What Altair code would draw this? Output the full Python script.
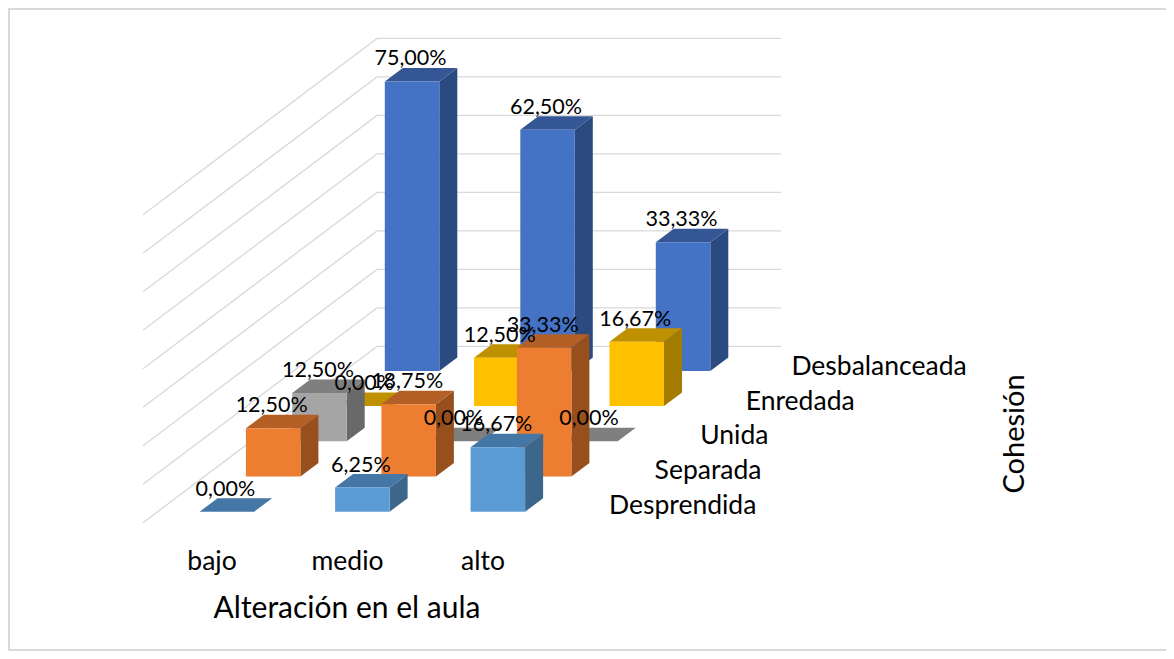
import altair as alt
import pandas as pd

categories = ["bajo", "medio", "alto"]
series = ["Desprendida", "Separada", "Unida", "Enredada", "Desbalanceada"]
desprendida = [0.00, 6.25, 16.67]
separada = [12.50, 18.75, 33.33]
unida = [12.50, 0.00, 0.00]
enredada = [0.00, 12.50, 16.67]
desbalanceada = [75.00, 62.50, 33.33]
ticks = [0, 10, 20, 30, 40, 50, 60, 70, 80]
x_title = "Alteración en el aula"
y_title = "Cohesión"

FRONT = ["#5B9BD5", "#ED7D31", "#A5A5A5", "#FFC000", "#4472C4"]
TOPF = ["#4477A6", "#B35F25", "#7F7F7F", "#BF9000", "#345694"]
SIDE = ["#3C668C", "#984F1E", "#696969", "#A37B00", "#2B4A80"]
GRID = "#D9D9D9"
FONT = "Lato"

W, H = 1158, 643
xs = alt.Scale(domain=[8, 8 + W], range=[0, W], nice=False, zero=False)
ys = alt.Scale(domain=[8 + H, 8], range=[H, 0], nice=False, zero=False)
X = lambda f: alt.X(f"{f}:Q", scale=xs, axis=None)
Y = lambda f: alt.Y(f"{f}:Q", scale=ys, axis=None)

# projection of the 3-D scene on the picture
PX = 3.86        # per percent point
X0, Y0 = 199.6, 511.7
CAT_STEP = 135.5
DEPTH_X, DEPTH_Y = 46.3, 35.2
BAR_W = 54.5
EDGE_X, EDGE_Y = 18.0, 13.5

rows = []
for d, vals in enumerate([desprendida, separada, unida, enredada, desbalanceada]):
    for i, v in enumerate(vals):
        for t in (0, 1):
            rows.append(dict(i=i, d=d, v=v, t=t, cat=categories[i], ser=series[d]))
df = pd.DataFrame(rows)

base = alt.Chart(df).transform_calculate(
    xl=f"{X0}+datum.i*{CAT_STEP}+datum.d*{DEPTH_X}",
    floor=f"{Y0}-datum.d*{DEPTH_Y}",
).transform_calculate(
    xr=f"datum.xl+{BAR_W}",
    top=f"datum.floor-datum.v*{PX}",
).transform_calculate(
    sx=f"datum.xr+datum.t*{EDGE_X}",
    sy=f"datum.top-datum.t*{EDGE_Y}",
    sy2=f"datum.floor-datum.t*{EDGE_Y}",
    tx=f"datum.xl+datum.t*{EDGE_X}",
    tx2=f"datum.xr+datum.t*{EDGE_X}",
    lx=f"(datum.xl+datum.xr)/2-1.5",
    ly=f"datum.top-16",
    label="replace(format(datum.v,'.2f'),'.',',')+'%'",
)

layers = []

# wall grid
grid_df = pd.DataFrame([dict(tick=k, c=c) for k in ticks for c in (0, 1, 2)])
grid = alt.Chart(grid_df).transform_calculate(
    gx="datum.c==0?143:(datum.c==1?377:781)",
    gy=f"(datum.c==0?522.7:346.4)-datum.tick*3.85",
).mark_line(color=GRID, strokeWidth=1.3, clip=False).encode(
    x=X("gx"), y=Y("gy"), detail="tick:O", order="c:Q"
)
layers.append(grid)

# bars, back to front
for d in range(len(series) - 1, -1, -1):
    b = base.transform_filter(f"datum.d=={d}")
    side = b.mark_area(color=SIDE[d], orient="vertical", interpolate="linear").encode(
        x=X("sx"), y=Y("sy"), y2=alt.Y2("sy2"), detail="cat:N"
    )
    top = b.mark_area(color=TOPF[d], orient="horizontal", interpolate="linear").encode(
        y=Y("sy"), x=X("tx"), x2=alt.X2("tx2"), detail="cat:N"
    )
    front = b.transform_filter("datum.t==0").mark_rect(color=FRONT[d]).encode(
        x=X("xl"), x2="xr:Q", y=Y("top"), y2="floor:Q"
    )
    layers += [side, top, front]

# value labels
layers.append(
    base.transform_filter("datum.t==0").mark_text(
        font=FONT, fontSize=21.5, color="#000000", align="center", baseline="alphabetic"
    ).encode(x=X("lx"), y=Y("ly"), text="label:N")
)

# category labels
cat_df = pd.DataFrame(dict(i=range(len(categories)), name=categories))
layers.append(
    alt.Chart(cat_df).transform_calculate(px=f"212+datum.i*{CAT_STEP}", py="570").mark_text(
        font=FONT, fontSize=26.5, color="#000000", align="center", baseline="alphabetic"
    ).encode(x=X("px"), y=Y("py"), text="name:N")
)

# series labels
ser_df = pd.DataFrame(dict(d=range(len(series)), name=series))
layers.append(
    alt.Chart(ser_df).transform_calculate(px="609+datum.d*45.6", py="514-datum.d*34.8").mark_text(
        font=FONT, fontSize=26.5, color="#000000", align="left", baseline="alphabetic"
    ).encode(x=X("px"), y=Y("py"), text="name:N")
)

# axis titles
t_df = pd.DataFrame(dict(name=[x_title]))
layers.append(
    alt.Chart(t_df).transform_calculate(px="347", py="618").mark_text(
        font=FONT, fontSize=30, color="#000000", align="center", baseline="alphabetic"
    ).encode(x=X("px"), y=Y("py"), text="name:N")
)
t2_df = pd.DataFrame(dict(name=[y_title]))
layers.append(
    alt.Chart(t2_df).transform_calculate(px="1024", py="434").mark_text(
        font=FONT, fontSize=29, color="#000000", align="center", baseline="alphabetic", angle=270
    ).encode(x=X("px"), y=Y("py"), text="name:N")
)

# picture frame
frame = pd.DataFrame(dict(a=[0]))
layers.append(alt.Chart(frame).mark_rule(color=GRID, strokeWidth=2).encode(
    x=alt.value(1), y=alt.value(0), y2=alt.value(H - 1)))
layers.append(alt.Chart(frame).mark_rule(color=GRID, strokeWidth=2).encode(
    y=alt.value(1), x=alt.value(0), x2=alt.value(W)))
layers.append(alt.Chart(frame).mark_rule(color=GRID, strokeWidth=2).encode(
    y=alt.value(H - 1), x=alt.value(0), x2=alt.value(W)))

chart = alt.layer(*layers).properties(
    width=W, height=H, padding=0, autosize=alt.AutoSizeParams(type="none"),
    background="#FFFFFF"
).configure_view(stroke=None)

chart.save("out.html", embed_options={"renderer": "svg", "actions": False})
